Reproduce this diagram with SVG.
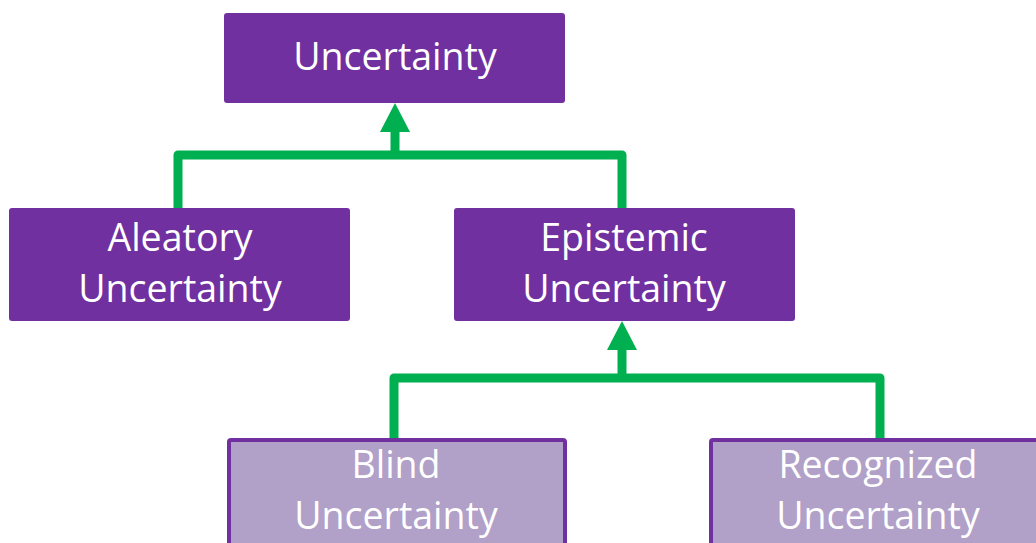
<svg xmlns="http://www.w3.org/2000/svg" width="1036" height="543" viewBox="0 0 1036 543">
<style>
.dark{fill:#7030A0;}
.light{fill:#B1A0C7;stroke:#7030A0;stroke-width:4;}
.t{font-family:"Open Sans","Liberation Sans",sans-serif;font-size:37.5px;fill:#FFFFFF;text-anchor:middle;}
.c{fill:none;stroke:#00B050;stroke-width:9;stroke-linejoin:round;}
.h{fill:#00B050;}
</style>
<rect width="1036" height="543" fill="#FFFFFF"/>
<g id="connectors">
<path class="c" d="M178,208 V155 H622 V208"/>
<path class="c" d="M395,155 V128"/>
<polygon class="h" points="395,103 380,132 410,132"/>
<path class="c" d="M394,438 V378 H880 V438"/>
<path class="c" d="M622,378 V346"/>
<polygon class="h" points="622,321 607,350 637,350"/>
</g>
<g id="uncertainty">
<rect class="dark" x="224" y="13" width="341" height="90" rx="3"/>
<text class="t" x="395" y="70">Uncertainty</text>
</g>
<g id="aleatory">
<rect class="dark" x="9" y="208" width="341" height="113" rx="3"/>
<text class="t" x="180" y="251">Aleatory</text>
<text class="t" x="180" y="302">Uncertainty</text>
</g>
<g id="epistemic">
<rect class="dark" x="454" y="208" width="341" height="113" rx="3"/>
<text class="t" x="624" y="251">Epistemic</text>
<text class="t" x="624" y="302">Uncertainty</text>
</g>
<g id="blind">
<rect class="light" x="229" y="440" width="336" height="120" rx="2"/>
<text class="t" x="396" y="478">Blind</text>
<text class="t" x="396" y="529">Uncertainty</text>
</g>
<g id="recognized">
<rect class="light" x="711" y="440" width="340" height="120" rx="2"/>
<text class="t" x="878" y="478">Recognized</text>
<text class="t" x="878" y="529">Uncertainty</text>
</g>
</svg>
